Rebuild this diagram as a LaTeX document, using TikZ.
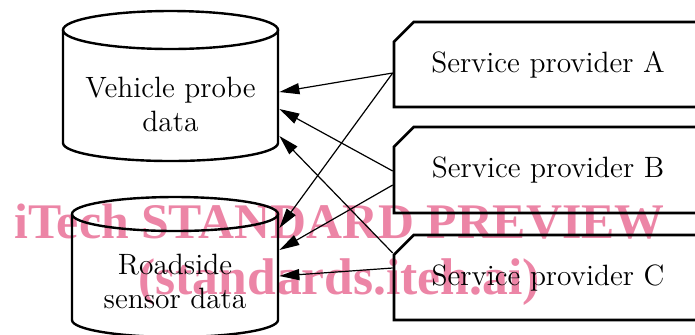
\documentclass[tikz,border=0pt]{standalone}
\usepackage{fontspec}
\newfontfamily\wmfont{Liberation Serif}
\usepackage{tikz}
\usetikzlibrary{shapes.misc, arrows.meta, calc}

\definecolor{wmpink}{RGB}{236,133,166}

\begin{document}
\begin{tikzpicture}[x=0.5pt, y=-0.5pt,
    store/.style={rectangle, align=center, inner sep=0pt, font=\fontsize{14.7}{17}\selectfont},
    storeline/.style={line width=1.2pt},
    provider/.style={draw, line width=1.3pt, chamfered rectangle,
        chamfered rectangle corners=north west, chamfered rectangle xsep=7pt,
        minimum width=154pt, minimum height=42.5pt, font=\fontsize{14.7}{17}\selectfont},
    feed/.style={-{Triangle[length=10pt,width=5.5pt]}, line width=0.6pt},
    mark text/.style={anchor=base west, inner sep=0pt, text=wmpink}]
            % Fix the frame of the picture
            \clip (0,0) rectangle (695,334);

            % Watermark behind the diagram
            \node[mark text, font=\wmfont\bfseries\fontsize{24.9}{28}\selectfont] (wmtop) at (14,238) {iTech STANDARD PREVIEW};
            \node[mark text, font=\wmfont\bfseries\fontsize{25.8}{28}\selectfont] (wmbottom) at (138,294) {(standards.iteh.ai)};

            % Draw the two data stores
            \node[store, minimum width=107.5pt] (vehicle) at (170.5,104) {Vehicle probe\\data};
            \draw[storeline] (170.5,30) ellipse [x radius=107.5, y radius=19];
            \draw[storeline] (63,30) -- (63,143) arc [start angle=180, end angle=0, x radius=107.5, y radius=18] -- (278,30);

            \node[store, minimum width=103pt] (roadside) at (175,281) {Roadside\\sensor data};
            \draw[storeline] (175,214) ellipse [x radius=103, y radius=17];
            \draw[storeline] (72,214) -- (72,320) arc [start angle=180, end angle=0, x radius=103, y radius=17] -- (278,214);

            % Draw the service providers
            \node[provider] (provA) at (548,64.5) {Service provider A};
            \node[provider, minimum height=43pt] (provB) at (548,170) {Service provider B};
            \node[provider] (provC) at (548,277.5) {Service provider C};

            % Connect providers to the data stores
            \draw[feed] ($(provA.west)+(0,8.5)$) -- ($(vehicle.east)+(1,-12)$);
            \draw[feed] ($(provA.west)+(0,8.5)$) -- ($(roadside.east)+(1,-53)$);
            \draw[feed] ($(provB.west)+(0,1)$) -- ($(vehicle.east)+(1,5)$);
            \draw[feed] ($(provB.west)+(0,15)$) -- ($(roadside.east)+(1,-31)$);
            \draw[feed] ($(provC.west)+(0,-24.5)$) -- ($(vehicle.east)+(1,32)$);
            \draw[feed] ($(provC.west)+(0,-9.5)$) -- ($(roadside.east)+(1,-5)$);
        \end{tikzpicture}
\end{document}
